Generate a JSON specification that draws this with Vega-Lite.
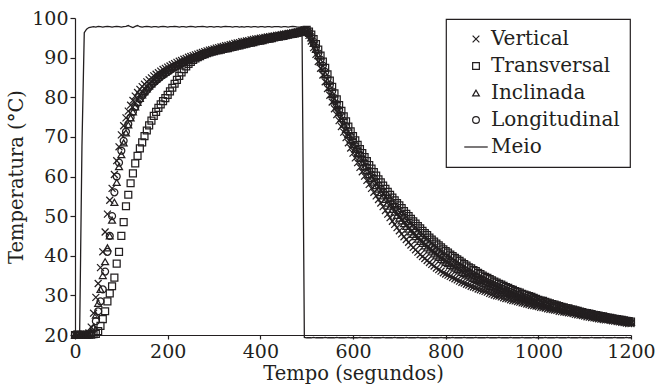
{
"$schema":"https://vega.github.io/schema/vega-lite/v6.json",
"width":556,"height":317,
"autosize":{"type":"none"},
"padding":{"left":75,"top":18,"right":26,"bottom":56},
"background":"white",
"config":{"view":{"stroke":null},"font":"DejaVu Serif",
"axis":{"grid":false,"domainColor":"#231f20","tickColor":"#231f20","labelColor":"#231f20","titleColor":"#231f20","labelFont":"DejaVu Serif","titleFont":"DejaVu Serif","labelFontSize":19,"titleFontSize":19.5,"titleFontWeight":"normal","domainWidth":1.2,"tickWidth":1.2},
"legend":{"orient":"top-right","offset":1,"labelFont":"DejaVu Serif","labelFontSize":20,"labelColor":"#231f20","strokeColor":"#231f20","strokeWidth":1.2,"fillColor":"white","padding":10,"symbolOffset":10,"labelOffset":5,"rowPadding":7,"symbolSize":45,"symbolStrokeColor":"#231f20","symbolStrokeWidth":1.2,"symbolFillColor":"transparent"}},
"data":{"values":[
{"t":0,"V":20.1,"T":20.0,"I":20.0,"L":20.1,"M":20.0},
{"t":5,"V":20.0,"T":20.1,"I":20.1,"L":20.0,"M":20.0},
{"t":10,"V":20.1,"T":20.0,"I":20.0,"L":20.1,"M":20.1},
{"t":15,"V":20.0,"T":20.0,"I":20.1,"L":20.0,"M":67.5},
{"t":20,"V":20.1,"T":20.1,"I":20.0,"L":20.0,"M":96.3},
{"t":25,"V":20.2,"T":20.0,"I":20.1,"L":20.1,"M":97.2},
{"t":30,"V":20.5,"T":20.1,"I":20.2,"L":20.1,"M":97.6},
{"t":35,"V":22.0,"T":20.1,"I":20.5,"L":20.3,"M":97.7},
{"t":40,"V":25.5,"T":20.2,"I":22.0,"L":21.5,"M":97.8},
{"t":45,"V":29.5,"T":20.3,"I":25.0,"L":23.5,"M":97.7},
{"t":50,"V":33.0,"T":21.0,"I":28.0,"L":26.0,"M":97.9},
{"t":55,"V":37.0,"T":22.3,"I":31.5,"L":28.5,"M":97.8},
{"t":60,"V":41.0,"T":24.0,"I":35.0,"L":31.5,"M":97.7},
{"t":65,"V":46.0,"T":26.0,"I":38.5,"L":36.0,"M":97.8},
{"t":70,"V":50.5,"T":28.5,"I":42.0,"L":41.0,"M":97.9},
{"t":75,"V":54.0,"T":30.5,"I":45.0,"L":45.0,"M":97.8},
{"t":80,"V":57.0,"T":32.3,"I":49.0,"L":50.0,"M":97.7},
{"t":85,"V":60.5,"T":34.5,"I":53.5,"L":56.0,"M":97.8},
{"t":90,"V":64.0,"T":38.0,"I":58.5,"L":60.0,"M":97.9},
{"t":95,"V":67.5,"T":41.0,"I":62.5,"L":63.5,"M":97.8},
{"t":100,"V":70.5,"T":45.0,"I":65.5,"L":66.5,"M":97.7},
{"t":105,"V":72.8,"T":48.5,"I":68.5,"L":69.0,"M":97.8},
{"t":110,"V":74.8,"T":52.5,"I":71.0,"L":71.3,"M":97.9},
{"t":115,"V":76.5,"T":55.4,"I":73.0,"L":73.2,"M":98.1},
{"t":120,"V":78.0,"T":58.3,"I":74.8,"L":74.9,"M":97.8},
{"t":125,"V":79.2,"T":60.8,"I":76.3,"L":76.3,"M":97.6},
{"t":130,"V":80.3,"T":63.3,"I":77.6,"L":77.5,"M":97.9},
{"t":135,"V":81.2,"T":65.2,"I":78.7,"L":78.6,"M":98.1},
{"t":140,"V":82.0,"T":67.1,"I":79.7,"L":79.5,"M":97.8},
{"t":145,"V":82.7,"T":68.6,"I":80.6,"L":80.4,"M":97.7},
{"t":150,"V":83.3,"T":70.2,"I":81.4,"L":81.1,"M":97.8},
{"t":155,"V":83.9,"T":71.6,"I":82.1,"L":81.8,"M":97.9},
{"t":160,"V":84.4,"T":72.9,"I":82.8,"L":82.5,"M":97.8},
{"t":165,"V":84.9,"T":74.1,"I":83.4,"L":83.1,"M":97.7},
{"t":170,"V":85.4,"T":75.3,"I":84.0,"L":83.7,"M":97.8},
{"t":175,"V":85.8,"T":76.3,"I":84.5,"L":84.2,"M":97.8},
{"t":180,"V":86.2,"T":77.3,"I":85.0,"L":84.7,"M":97.7},
{"t":185,"V":86.6,"T":78.2,"I":85.5,"L":85.2,"M":97.8},
{"t":190,"V":87.0,"T":79.0,"I":85.9,"L":85.6,"M":97.9},
{"t":195,"V":87.3,"T":79.8,"I":86.3,"L":86.0,"M":97.8},
{"t":200,"V":87.6,"T":80.6,"I":86.7,"L":86.4,"M":97.7},
{"t":205,"V":87.9,"T":81.5,"I":87.1,"L":86.8,"M":97.8},
{"t":210,"V":88.2,"T":82.4,"I":87.5,"L":87.2,"M":97.8},
{"t":215,"V":88.5,"T":83.4,"I":87.8,"L":87.5,"M":97.9},
{"t":220,"V":88.8,"T":84.4,"I":88.2,"L":87.9,"M":97.8},
{"t":225,"V":89.1,"T":85.4,"I":88.5,"L":88.2,"M":97.7},
{"t":230,"V":89.3,"T":86.3,"I":88.8,"L":88.5,"M":97.8},
{"t":235,"V":89.6,"T":87.1,"I":89.1,"L":88.8,"M":97.8},
{"t":240,"V":89.8,"T":87.8,"I":89.4,"L":89.1,"M":97.7},
{"t":245,"V":90.1,"T":88.4,"I":89.6,"L":89.4,"M":97.8},
{"t":250,"V":90.3,"T":88.9,"I":89.9,"L":89.6,"M":97.9},
{"t":255,"V":90.5,"T":89.4,"I":90.1,"L":89.9,"M":97.8},
{"t":260,"V":90.7,"T":89.8,"I":90.3,"L":90.1,"M":97.7},
{"t":265,"V":90.9,"T":90.1,"I":90.5,"L":90.3,"M":97.8},
{"t":270,"V":91.1,"T":90.4,"I":90.7,"L":90.5,"M":97.8},
{"t":275,"V":91.3,"T":90.7,"I":90.9,"L":90.7,"M":97.9},
{"t":280,"V":91.5,"T":90.9,"I":91.1,"L":90.9,"M":97.8},
{"t":285,"V":91.7,"T":91.1,"I":91.3,"L":91.1,"M":97.7},
{"t":290,"V":91.9,"T":91.3,"I":91.5,"L":91.3,"M":97.8},
{"t":295,"V":92.0,"T":91.5,"I":91.7,"L":91.5,"M":97.8},
{"t":300,"V":92.2,"T":91.6,"I":91.9,"L":91.7,"M":97.7},
{"t":305,"V":92.4,"T":91.8,"I":92.0,"L":91.9,"M":97.8},
{"t":310,"V":92.5,"T":91.9,"I":92.2,"L":92.0,"M":97.8},
{"t":315,"V":92.7,"T":92.0,"I":92.3,"L":92.2,"M":97.7},
{"t":320,"V":92.8,"T":92.2,"I":92.5,"L":92.3,"M":97.8},
{"t":325,"V":93.0,"T":92.3,"I":92.6,"L":92.5,"M":97.9},
{"t":330,"V":93.1,"T":92.4,"I":92.8,"L":92.6,"M":97.8},
{"t":335,"V":93.3,"T":92.6,"I":92.9,"L":92.8,"M":97.8},
{"t":340,"V":93.4,"T":92.7,"I":93.1,"L":92.9,"M":97.7},
{"t":345,"V":93.6,"T":92.8,"I":93.2,"L":93.1,"M":97.8},
{"t":350,"V":93.7,"T":93.0,"I":93.4,"L":93.2,"M":97.8},
{"t":355,"V":93.8,"T":93.1,"I":93.5,"L":93.4,"M":97.7},
{"t":360,"V":94.0,"T":93.3,"I":93.6,"L":93.5,"M":97.8},
{"t":365,"V":94.1,"T":93.4,"I":93.8,"L":93.6,"M":97.7},
{"t":370,"V":94.2,"T":93.5,"I":93.9,"L":93.8,"M":97.8},
{"t":375,"V":94.3,"T":93.7,"I":94.0,"L":93.9,"M":97.8},
{"t":380,"V":94.5,"T":93.8,"I":94.2,"L":94.0,"M":97.7},
{"t":385,"V":94.6,"T":93.9,"I":94.3,"L":94.2,"M":97.8},
{"t":390,"V":94.7,"T":94.1,"I":94.4,"L":94.3,"M":97.8},
{"t":395,"V":94.8,"T":94.2,"I":94.5,"L":94.4,"M":97.7},
{"t":400,"V":94.9,"T":94.3,"I":94.6,"L":94.5,"M":97.8},
{"t":405,"V":95.0,"T":94.4,"I":94.8,"L":94.6,"M":97.8},
{"t":410,"V":95.1,"T":94.6,"I":94.9,"L":94.8,"M":97.7},
{"t":415,"V":95.2,"T":94.7,"I":95.0,"L":94.9,"M":97.8},
{"t":420,"V":95.3,"T":94.8,"I":95.1,"L":95.0,"M":97.8},
{"t":425,"V":95.4,"T":94.9,"I":95.2,"L":95.1,"M":97.7},
{"t":430,"V":95.5,"T":95.1,"I":95.3,"L":95.2,"M":97.8},
{"t":435,"V":95.6,"T":95.2,"I":95.4,"L":95.3,"M":97.8},
{"t":440,"V":95.7,"T":95.3,"I":95.5,"L":95.4,"M":97.8},
{"t":445,"V":95.8,"T":95.4,"I":95.6,"L":95.5,"M":97.7},
{"t":450,"V":95.9,"T":95.5,"I":95.7,"L":95.6,"M":97.8},
{"t":455,"V":96.0,"T":95.7,"I":95.8,"L":95.7,"M":97.8},
{"t":460,"V":96.1,"T":95.8,"I":95.9,"L":95.8,"M":97.7},
{"t":465,"V":96.2,"T":95.9,"I":96.0,"L":95.9,"M":97.8},
{"t":470,"V":96.3,"T":96.0,"I":96.1,"L":96.0,"M":97.9},
{"t":475,"V":96.4,"T":96.1,"I":96.2,"L":96.1,"M":97.8},
{"t":480,"V":96.5,"T":96.3,"I":96.3,"L":96.2,"M":97.7},
{"t":485,"V":96.6,"T":96.4,"I":96.4,"L":96.3,"M":97.7},
{"t":490,"V":96.8,"T":96.5,"I":96.6,"L":96.5,"M":97.5},
{"t":495,"V":97.0,"T":96.9,"I":97.0,"L":96.9,"M":19.4},
{"t":500,"V":96.6,"T":97.0,"I":96.8,"L":96.9,"M":19.3},
{"t":505,"V":95.6,"T":96.6,"I":96.1,"L":96.3,"M":19.3},
{"t":510,"V":94.2,"T":95.8,"I":95.0,"L":95.3,"M":19.3},
{"t":515,"V":92.5,"T":94.7,"I":93.6,"L":94.0,"M":19.4},
{"t":520,"V":90.8,"T":93.4,"I":92.1,"L":92.6,"M":19.3},
{"t":525,"V":89.0,"T":92.0,"I":90.5,"L":91.1,"M":19.3},
{"t":530,"V":87.3,"T":90.5,"I":88.9,"L":89.5,"M":19.3},
{"t":535,"V":85.6,"T":89.0,"I":87.3,"L":88.0,"M":19.3},
{"t":540,"V":83.9,"T":87.4,"I":85.7,"L":86.4,"M":19.4},
{"t":545,"V":82.2,"T":85.8,"I":84.0,"L":84.7,"M":19.3},
{"t":550,"V":80.5,"T":84.2,"I":82.4,"L":83.1,"M":19.3},
{"t":555,"V":78.8,"T":82.6,"I":80.7,"L":81.5,"M":19.3},
{"t":560,"V":77.1,"T":81.0,"I":79.1,"L":79.8,"M":19.3},
{"t":565,"V":75.6,"T":79.5,"I":77.6,"L":78.3,"M":19.4},
{"t":570,"V":74.1,"T":78.0,"I":76.1,"L":76.8,"M":19.3},
{"t":575,"V":72.6,"T":76.6,"I":74.6,"L":75.4,"M":19.3},
{"t":580,"V":71.2,"T":75.2,"I":73.2,"L":74.0,"M":19.3},
{"t":585,"V":69.8,"T":73.9,"I":71.9,"L":72.7,"M":19.3},
{"t":590,"V":68.5,"T":72.6,"I":70.6,"L":71.4,"M":19.4},
{"t":595,"V":67.2,"T":71.4,"I":69.3,"L":70.1,"M":19.3},
{"t":600,"V":65.9,"T":70.2,"I":68.1,"L":68.9,"M":19.3},
{"t":605,"V":64.7,"T":69.1,"I":66.9,"L":67.8,"M":19.3},
{"t":610,"V":63.5,"T":68.0,"I":65.8,"L":66.7,"M":19.3},
{"t":615,"V":62.3,"T":66.9,"I":64.6,"L":65.5,"M":19.4},
{"t":620,"V":61.2,"T":65.9,"I":63.6,"L":64.5,"M":19.3},
{"t":625,"V":60.1,"T":64.9,"I":62.5,"L":63.5,"M":19.3},
{"t":630,"V":59.0,"T":63.9,"I":61.5,"L":62.4,"M":19.3},
{"t":635,"V":58.0,"T":62.9,"I":60.5,"L":61.4,"M":19.3},
{"t":640,"V":57.0,"T":62.0,"I":59.5,"L":60.5,"M":19.4},
{"t":645,"V":56.0,"T":61.1,"I":58.6,"L":59.6,"M":19.3},
{"t":650,"V":55.1,"T":60.2,"I":57.7,"L":58.7,"M":19.3},
{"t":655,"V":54.2,"T":59.3,"I":56.8,"L":57.8,"M":19.3},
{"t":660,"V":53.3,"T":58.5,"I":55.9,"L":56.9,"M":19.3},
{"t":665,"V":52.4,"T":57.7,"I":55.1,"L":56.1,"M":19.4},
{"t":670,"V":51.4,"T":56.9,"I":54.2,"L":55.3,"M":19.3},
{"t":675,"V":50.5,"T":56.1,"I":53.3,"L":54.4,"M":19.3},
{"t":680,"V":49.6,"T":55.4,"I":52.5,"L":53.7,"M":19.3},
{"t":685,"V":48.7,"T":54.7,"I":51.7,"L":52.9,"M":19.3},
{"t":690,"V":47.9,"T":54.0,"I":51.0,"L":52.2,"M":19.4},
{"t":695,"V":47.1,"T":53.3,"I":50.2,"L":51.4,"M":19.3},
{"t":700,"V":46.3,"T":52.7,"I":49.5,"L":50.8,"M":19.3},
{"t":705,"V":45.5,"T":52.0,"I":48.8,"L":50.1,"M":19.3},
{"t":710,"V":44.8,"T":51.3,"I":48.1,"L":49.4,"M":19.3},
{"t":715,"V":44.1,"T":50.6,"I":47.4,"L":48.7,"M":19.4},
{"t":720,"V":43.4,"T":50.0,"I":46.7,"L":48.0,"M":19.3},
{"t":725,"V":42.7,"T":49.3,"I":46.0,"L":47.3,"M":19.3},
{"t":730,"V":42.1,"T":48.7,"I":45.4,"L":46.7,"M":19.3},
{"t":735,"V":41.5,"T":48.1,"I":44.8,"L":46.1,"M":19.3},
{"t":740,"V":40.9,"T":47.5,"I":44.2,"L":45.5,"M":19.4},
{"t":745,"V":40.3,"T":46.9,"I":43.6,"L":44.9,"M":19.3},
{"t":750,"V":39.8,"T":46.3,"I":43.1,"L":44.4,"M":19.3},
{"t":755,"V":39.3,"T":45.7,"I":42.5,"L":43.8,"M":19.3},
{"t":760,"V":38.8,"T":45.2,"I":42.0,"L":43.3,"M":19.3},
{"t":765,"V":38.3,"T":44.6,"I":41.5,"L":42.7,"M":19.4},
{"t":770,"V":37.8,"T":44.1,"I":41.0,"L":42.2,"M":19.3},
{"t":775,"V":37.4,"T":43.6,"I":40.5,"L":41.7,"M":19.3},
{"t":780,"V":36.9,"T":43.1,"I":40.0,"L":41.2,"M":19.3},
{"t":785,"V":36.5,"T":42.6,"I":39.6,"L":40.8,"M":19.3},
{"t":790,"V":36.1,"T":42.1,"I":39.1,"L":40.3,"M":19.4},
{"t":795,"V":35.7,"T":41.6,"I":38.7,"L":39.8,"M":19.3},
{"t":800,"V":35.4,"T":41.2,"I":38.3,"L":39.5,"M":19.3},
{"t":805,"V":35.1,"T":40.8,"I":38.0,"L":39.1,"M":19.3},
{"t":810,"V":34.8,"T":40.3,"I":37.6,"L":38.7,"M":19.3},
{"t":815,"V":34.5,"T":39.9,"I":37.2,"L":38.3,"M":19.4},
{"t":820,"V":34.2,"T":39.5,"I":36.9,"L":37.9,"M":19.3},
{"t":825,"V":33.9,"T":39.1,"I":36.5,"L":37.5,"M":19.3},
{"t":830,"V":33.6,"T":38.7,"I":36.2,"L":37.2,"M":19.3},
{"t":835,"V":33.3,"T":38.3,"I":35.8,"L":36.8,"M":19.3},
{"t":840,"V":33.1,"T":37.9,"I":35.5,"L":36.5,"M":19.4},
{"t":845,"V":32.8,"T":37.5,"I":35.2,"L":36.1,"M":19.3},
{"t":850,"V":32.6,"T":37.1,"I":34.9,"L":35.8,"M":19.3},
{"t":855,"V":32.3,"T":36.8,"I":34.6,"L":35.5,"M":19.3},
{"t":860,"V":32.1,"T":36.4,"I":34.3,"L":35.1,"M":19.3},
{"t":865,"V":31.9,"T":36.1,"I":34.0,"L":34.8,"M":19.4},
{"t":870,"V":31.6,"T":35.7,"I":33.7,"L":34.5,"M":19.3},
{"t":875,"V":31.4,"T":35.4,"I":33.4,"L":34.2,"M":19.3},
{"t":880,"V":31.2,"T":35.0,"I":33.1,"L":33.9,"M":19.3},
{"t":885,"V":31.0,"T":34.7,"I":32.9,"L":33.6,"M":19.3},
{"t":890,"V":30.8,"T":34.4,"I":32.6,"L":33.3,"M":19.4},
{"t":895,"V":30.5,"T":34.1,"I":32.3,"L":33.0,"M":19.3},
{"t":900,"V":30.3,"T":33.8,"I":32.1,"L":32.8,"M":19.3},
{"t":905,"V":30.1,"T":33.5,"I":31.8,"L":32.5,"M":19.3},
{"t":910,"V":29.9,"T":33.2,"I":31.6,"L":32.2,"M":19.3},
{"t":915,"V":29.8,"T":32.9,"I":31.4,"L":32.0,"M":19.4},
{"t":920,"V":29.6,"T":32.7,"I":31.2,"L":31.8,"M":19.3},
{"t":925,"V":29.4,"T":32.4,"I":30.9,"L":31.5,"M":19.3},
{"t":930,"V":29.2,"T":32.1,"I":30.7,"L":31.2,"M":19.3},
{"t":935,"V":29.1,"T":31.9,"I":30.5,"L":31.1,"M":19.3},
{"t":940,"V":28.9,"T":31.6,"I":30.3,"L":30.8,"M":19.4},
{"t":945,"V":28.7,"T":31.4,"I":30.1,"L":30.6,"M":19.3},
{"t":950,"V":28.6,"T":31.1,"I":29.9,"L":30.4,"M":19.3},
{"t":955,"V":28.4,"T":30.9,"I":29.7,"L":30.2,"M":19.3},
{"t":960,"V":28.3,"T":30.7,"I":29.5,"L":30.0,"M":19.3},
{"t":965,"V":28.1,"T":30.4,"I":29.3,"L":29.7,"M":19.4},
{"t":970,"V":28.0,"T":30.2,"I":29.1,"L":29.5,"M":19.3},
{"t":975,"V":27.8,"T":30.0,"I":28.9,"L":29.3,"M":19.3},
{"t":980,"V":27.7,"T":29.8,"I":28.8,"L":29.2,"M":19.3},
{"t":985,"V":27.5,"T":29.6,"I":28.6,"L":29.0,"M":19.3},
{"t":990,"V":27.4,"T":29.4,"I":28.4,"L":28.8,"M":19.4},
{"t":995,"V":27.3,"T":29.1,"I":28.2,"L":28.6,"M":19.3},
{"t":1000,"V":27.2,"T":28.9,"I":28.1,"L":28.4,"M":19.3},
{"t":1005,"V":27.0,"T":28.7,"I":27.9,"L":28.2,"M":19.3},
{"t":1010,"V":26.9,"T":28.6,"I":27.8,"L":28.1,"M":19.3},
{"t":1015,"V":26.8,"T":28.4,"I":27.6,"L":27.9,"M":19.4},
{"t":1020,"V":26.6,"T":28.2,"I":27.4,"L":27.7,"M":19.3},
{"t":1025,"V":26.5,"T":28.0,"I":27.3,"L":27.6,"M":19.3},
{"t":1030,"V":26.4,"T":27.8,"I":27.1,"L":27.4,"M":19.3},
{"t":1035,"V":26.3,"T":27.7,"I":27.0,"L":27.3,"M":19.3},
{"t":1040,"V":26.2,"T":27.5,"I":26.9,"L":27.1,"M":19.4},
{"t":1045,"V":26.0,"T":27.3,"I":26.7,"L":26.9,"M":19.3},
{"t":1050,"V":25.9,"T":27.1,"I":26.5,"L":26.7,"M":19.3},
{"t":1055,"V":25.8,"T":27.0,"I":26.4,"L":26.6,"M":19.3},
{"t":1060,"V":25.7,"T":26.8,"I":26.3,"L":26.5,"M":19.3},
{"t":1065,"V":25.6,"T":26.7,"I":26.2,"L":26.4,"M":19.4},
{"t":1070,"V":25.5,"T":26.5,"I":26.0,"L":26.2,"M":19.3},
{"t":1075,"V":25.4,"T":26.4,"I":25.9,"L":26.1,"M":19.3},
{"t":1080,"V":25.2,"T":26.2,"I":25.7,"L":25.9,"M":19.3},
{"t":1085,"V":25.1,"T":26.1,"I":25.6,"L":25.8,"M":19.3},
{"t":1090,"V":25.0,"T":25.9,"I":25.5,"L":25.6,"M":19.4},
{"t":1095,"V":24.9,"T":25.8,"I":25.4,"L":25.5,"M":19.3},
{"t":1100,"V":24.8,"T":25.6,"I":25.2,"L":25.4,"M":19.3},
{"t":1105,"V":24.6,"T":25.5,"I":25.1,"L":25.2,"M":19.3},
{"t":1110,"V":24.5,"T":25.4,"I":25.0,"L":25.1,"M":19.3},
{"t":1115,"V":24.4,"T":25.3,"I":24.9,"L":25.0,"M":19.4},
{"t":1120,"V":24.3,"T":25.1,"I":24.7,"L":24.9,"M":19.3},
{"t":1125,"V":24.2,"T":25.0,"I":24.6,"L":24.8,"M":19.3},
{"t":1130,"V":24.1,"T":24.9,"I":24.5,"L":24.7,"M":19.3},
{"t":1135,"V":24.0,"T":24.8,"I":24.4,"L":24.6,"M":19.3},
{"t":1140,"V":23.9,"T":24.7,"I":24.3,"L":24.5,"M":19.4},
{"t":1145,"V":23.8,"T":24.5,"I":24.2,"L":24.3,"M":19.3},
{"t":1150,"V":23.8,"T":24.4,"I":24.1,"L":24.2,"M":19.3},
{"t":1155,"V":23.7,"T":24.3,"I":24.0,"L":24.1,"M":19.3},
{"t":1160,"V":23.6,"T":24.2,"I":23.9,"L":24.0,"M":19.3},
{"t":1165,"V":23.5,"T":24.1,"I":23.8,"L":23.9,"M":19.4},
{"t":1170,"V":23.4,"T":24.0,"I":23.7,"L":23.8,"M":19.3},
{"t":1175,"V":23.3,"T":23.9,"I":23.6,"L":23.7,"M":19.3},
{"t":1180,"V":23.2,"T":23.8,"I":23.5,"L":23.6,"M":19.3},
{"t":1185,"V":23.1,"T":23.7,"I":23.4,"L":23.5,"M":19.3},
{"t":1190,"V":23.0,"T":23.6,"I":23.3,"L":23.4,"M":19.4},
{"t":1195,"V":22.9,"T":23.5,"I":23.2,"L":23.3,"M":19.3},
{"t":1200,"V":22.9,"T":23.4,"I":23.2,"L":23.2,"M":19.3}
]},
"layer":[
{"mark":{"type":"line","color":"#231f20","strokeWidth":1.3},
 "encoding":{
  "x":{"field":"t","type":"quantitative","scale":{"domain":[0,1200],"nice":false},"axis":{"title":"Tempo (segundos)","values":[0,200,400,600,800,1000,1200],"format":"d","tickSize":4,"labelPadding":3,"titlePadding":3,"labelFlush":false}},
  "y":{"field":"M","type":"quantitative","scale":{"domain":[20,100],"nice":false,"zero":false},"axis":{"title":"Temperatura (°C)","values":[20,30,40,50,60,70,80,90,100],"format":"d","tickSize":5,"labelPadding":2,"titlePadding":5}}}},
{"transform":[{"fold":["V","T","I","L"],"as":["s","v"]}],
 "mark":{"type":"point","filled":false,"color":"#231f20","strokeWidth":1.25,"opacity":1,"size":48},
 "encoding":{
  "x":{"field":"t","type":"quantitative","axis":{"title":"Tempo (segundos)","values":[0,200,400,600,800,1000,1200],"format":"d","tickSize":4,"labelPadding":3,"titlePadding":3,"labelFlush":false}},
  "y":{"field":"v","type":"quantitative","axis":{"title":"Temperatura (°C)","values":[20,30,40,50,60,70,80,90,100],"format":"d","tickSize":5,"labelPadding":2,"titlePadding":5}},
  "shape":{"field":"s","type":"nominal","scale":{"domain":["V","T","I","L","M"],"range":["M-1,-1L1,1M-1,1L1,-1","square","triangle-up","circle","M-3.5,0L3.5,0"]},"legend":{"title":null,"labelExpr":"datum.label == 'V' ? 'Vertical' : datum.label == 'T' ? 'Transversal' : datum.label == 'I' ? 'Inclinada' : datum.label == 'L' ? 'Longitudinal' : 'Meio'"}}}}
]
}
